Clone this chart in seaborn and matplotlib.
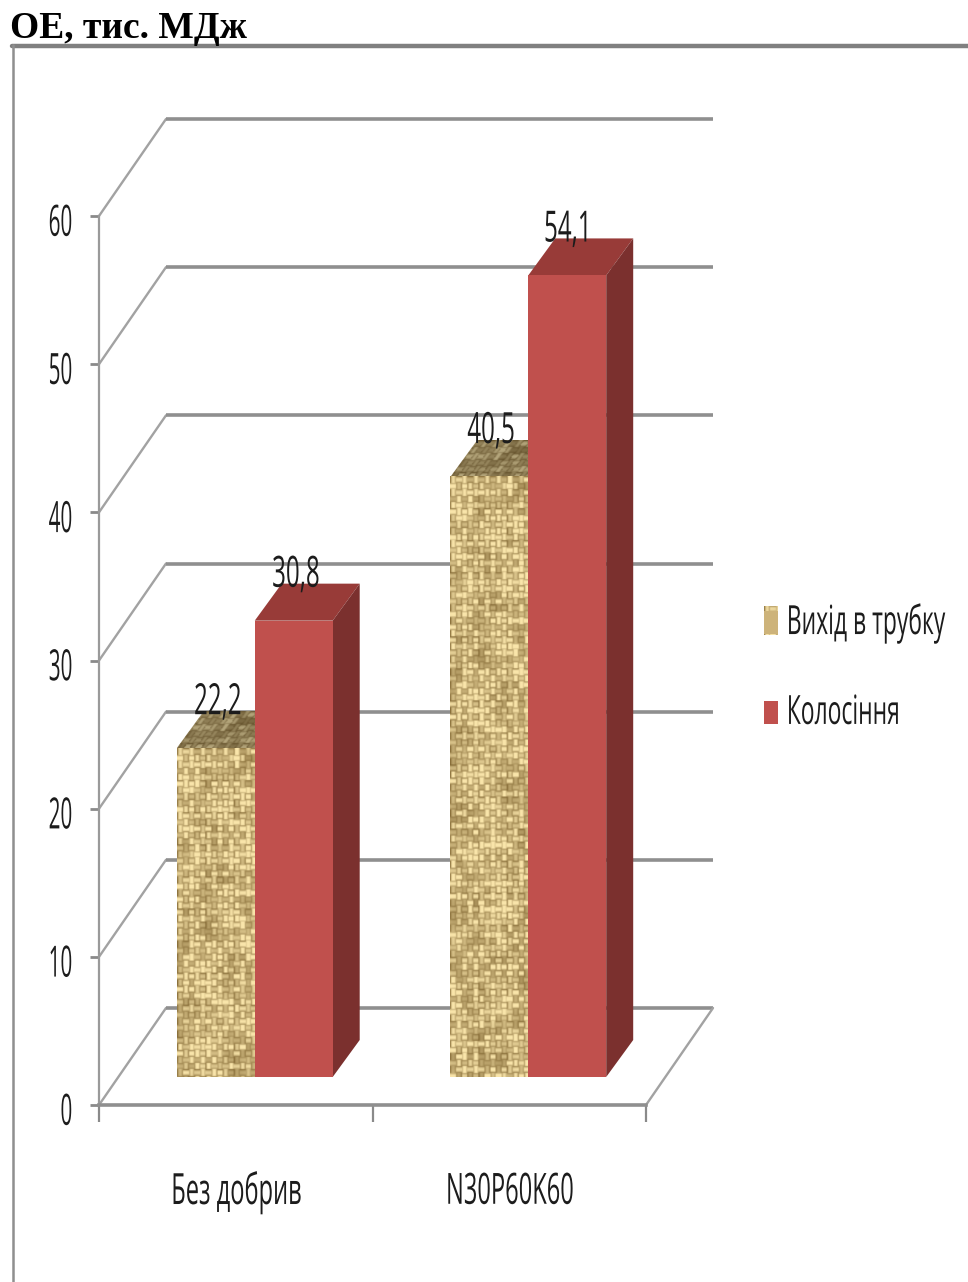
import numpy as np
import pandas as pd
import matplotlib
matplotlib.use("Agg")
import matplotlib.pyplot as plt
import matplotlib.patheffects as pe
from matplotlib.lines import Line2D
from matplotlib.patches import Patch, Polygon
from matplotlib.transforms import Affine2D
import seaborn as sns

# Metabolizable energy by fertilizer treatment and growth phase
treatments = ["Без добрив", "N30P60K60"]
phases = ["Вихід в трубку", "Колосіння"]
booting = [22.2, 40.5]
heading = [30.8, 54.1]
y_ticks = [0, 10, 20, 30, 40, 50, 60]

WIDTH, HEIGHT = 968, 1282
DPI = 100

sns.set_theme(style="white")
plt.rcParams["font.family"] = ["Open Sans", "DejaVu Sans"]

GRID = "#8f8f8f"
RED_FRONT, RED_TOP, RED_SIDE = "#C0504D", "#983B38", "#7B302E"
BURLAP = "#CDB37A"
INK = "#1c1c1c"
LABEL_SIZE = 31
LEGEND_SIZE = 16


class Reshaped(pe.AbstractPathEffect):
    """Rescale a text's glyphs about an edge or the centre, and its baseline."""

    def __init__(self, x_scale, anchor="center", y_scale=1.0, dy=0):
        super().__init__()
        self.x_scale, self.anchor, self.y_scale, self.dy = x_scale, anchor, y_scale, dy

    def draw_path(self, renderer, gc, tpath, affine, rgbFace=None):
        box = tpath.get_extents(affine)
        pivot_x = {"left": box.x0, "right": box.x1, "center": (box.x0 + box.x1) / 2}[self.anchor]
        baseline = affine.transform((0, 0))[1]
        reshape = (Affine2D().translate(-pivot_x, -baseline)
                   .scale(self.x_scale, self.y_scale)
                   .translate(pivot_x, baseline + self.dy))
        renderer.draw_path(gc, tpath, affine + reshape, rgbFace)


def reshape_text(text, x_scale, anchor="center", y_scale=1.0, dy=0):
    text.set_path_effects([Reshaped(x_scale, anchor, y_scale, dy)])


def px_rect(left, top, right, bottom):
    return [left / WIDTH, 1 - bottom / HEIGHT, (right - left) / WIDTH, (bottom - top) / HEIGHT]


def cell_hash(a, b, seed=0.0):
    """Repeatable per-cell value in [0, 1) for uneven thread tones."""
    v = np.sin(a * 12.9898 + b * 78.233 + seed) * 43758.5453
    return v - np.floor(v)


def burlap_texture(rows, cols, shade=1.0, slant=0.0):
    """Sackcloth: over-and-under threads whose tone varies from stretch to stretch."""
    y, x = np.mgrid[0:rows, 0:cols].astype(float)
    x = x + slant * y
    size_x, size_y = 5.6, 6.4
    i, j = np.floor(x / size_x), np.floor(y / size_y)
    fx, fy = x / size_x - i, y / size_y - j
    warp_on_top = (i + j) % 2 == 0

    warp_tone = 0.3 + 0.7 * cell_hash(i, np.floor(j / 3), 1.0)
    weft_tone = 0.3 + 0.7 * cell_hash(np.floor(i / 3), j, 2.0)
    warp = warp_tone * np.sin(np.pi * fx) ** 0.7
    weft = weft_tone * np.sin(np.pi * fy) ** 0.7
    cloth = np.where(warp_on_top, warp, weft)

    blotch = (np.sin(x / 11.0 + 1.3 * np.sin(y / 17.0)) * np.sin(y / 14.0 - x / 29.0)
              + 0.5 * np.sin(x / 5.1 + y / 23.0) * np.cos(y / 7.3 - x / 13.0))
    tone = np.clip(0.28 + 0.92 * cloth + 0.08 * blotch, 0, 1)[..., None]
    dark = np.array([0.40, 0.29, 0.09])
    light = np.array([0.98, 0.90, 0.67])
    return (dark + (light - dark) * tone) * shade


df = pd.DataFrame({
    "treatment": treatments * 2,
    "phase": [phases[0]] * 2 + [phases[1]] * 2,
    "oe": booting + heading,
})

fig = plt.figure(figsize=(WIDTH / DPI, HEIGHT / DPI), dpi=DPI, facecolor="white")

# Front plane of the pseudo-3D frame: carries the axes and their labels
ax = fig.add_axes(px_rect(99, 216, 646, 1105), facecolor="none")
ax.set_xlim(-0.5, 1.5)
ax.set_ylim(0, 60)
ax.set_yticks(y_ticks)
ax.set_xticks([0, 1], treatments)
ax.set_xticks([-0.5, 0.5, 1.5], minor=True)
for side in ("top", "right"):
    ax.spines[side].set_visible(False)
ax.spines["left"].set(color="#9a9a9a", linewidth=1.6, bounds=(0, 60))
ax.spines["bottom"].set(color=GRID, linewidth=2.6)
ax.tick_params(axis="y", left=True, length=6.5, width=2, color="#8a8a8a", pad=12,
               labelsize=LABEL_SIZE, labelcolor=INK)
ax.tick_params(axis="x", which="major", bottom=False, length=0, pad=47,
               labelsize=LABEL_SIZE, labelcolor=INK)
ax.tick_params(axis="x", which="minor", bottom=True, length=12, width=1.6, color="#8a8a8a")
for label in ax.get_yticklabels():
    reshape_text(label, 0.48, "right", dy=-3)
for label in ax.get_xticklabels():
    reshape_text(label, 0.55, "center")

# Receding floor and back wall
depth_x = 67 / (547 / 2)
depth_y = 97 / (889 / 60)
for tick in y_ticks:
    ax.plot([-0.5, -0.5 + depth_x], [tick, tick + depth_y], color="#a2a2a2", lw=1.7,
            clip_on=False, zorder=1)
    ax.plot([-0.5 + depth_x, 1.5 + depth_x], [tick + depth_y] * 2, color=GRID, lw=2.6,
            clip_on=False, zorder=1, solid_capstyle="butt")
ax.plot([1.5, 1.5 + depth_x], [0, depth_y], color="#a2a2a2", lw=1.7, clip_on=False, zorder=1)

# Bars stand part-way into the floor, on their own shifted plane
bars_ax = fig.add_axes(px_rect(118, 188, 665, 1077), facecolor="none", zorder=3)
sns.barplot(data=df, x="treatment", y="oe", hue="phase", hue_order=phases,
            order=treatments, palette=[BURLAP, RED_FRONT], width=0.57, gap=0,
            saturation=1, legend=False, ax=bars_ax)
bars_ax.axis("off")

bar_dx = 27 / (547 / 2)
bar_dy = 37 / (889 / 60)
px_x = 547 / 2
px_y = 889 / 60


def value_label(bar):
    x_mid = bar.get_x() + bar.get_width() / 2
    top = bar.get_height()
    text = bars_ax.annotate(f"{top:.1f}".replace(".", ","), (x_mid, top),
                            xytext=(1.5, 32.5), textcoords="offset points", ha="center", va="center",
                            fontsize=LABEL_SIZE, color=INK, zorder=6, annotation_clip=False)
    reshape_text(text, 0.56, "center")


for bar in bars_ax.containers[0]:
    bar.set_linewidth(0)
    x0, x1, top = bar.get_x(), bar.get_x() + bar.get_width(), bar.get_height()
    rows, cols = int(top * px_y), int((x1 - x0) * px_x)
    bars_ax.imshow(burlap_texture(rows, cols), extent=(x0, x1, 0, top), aspect="auto",
                   interpolation="bicubic", zorder=2.2)
    cap = Polygon([(x0, top), (x1, top), (x1 + bar_dx, top + bar_dy), (x0 + bar_dx, top + bar_dy)],
                  closed=True, facecolor="none", edgecolor="none",
                  transform=bars_ax.transData)
    bars_ax.add_patch(cap)
    cap_img = bars_ax.imshow(burlap_texture(int(bar_dy * px_y), cols + 27, shade=0.72, slant=0.75),
                             extent=(x0, x1 + bar_dx, top, top + bar_dy), aspect="auto",
                             interpolation="bicubic", zorder=2.1)
    cap_img.set_clip_path(cap)
    value_label(bar)

for bar in bars_ax.containers[1]:
    bar.set_linewidth(0)
    bar.set_zorder(3)
    x0, x1, top = bar.get_x(), bar.get_x() + bar.get_width(), bar.get_height()
    bars_ax.add_patch(Polygon([(x0, top), (x1, top), (x1 + bar_dx, top + bar_dy), (x0 + bar_dx, top + bar_dy)],
                              closed=True, facecolor=RED_TOP, edgecolor="none", zorder=2.9, clip_on=False))
    bars_ax.add_patch(Polygon([(x1, 0), (x1 + bar_dx, bar_dy), (x1 + bar_dx, top + bar_dy), (x1, top)],
                              closed=True, facecolor=RED_SIDE, edgecolor="none", zorder=2.9, clip_on=False))
    value_label(bar)
bars_ax.set_xlim(-0.5, 1.5)
bars_ax.set_ylim(0, 60)

handles = [Patch(facecolor=BURLAP, edgecolor="none"), Patch(facecolor=RED_FRONT, edgecolor="none")]
legend = fig.legend(handles, phases, loc="center left", bbox_to_anchor=(764 / WIDTH, 1 - 668 / HEIGHT),
                    frameon=False, fontsize=LEGEND_SIZE, handlelength=0.63, handleheight=1.215,
                    handletextpad=0.4, labelspacing=2.965, borderpad=0, borderaxespad=0,
                    labelcolor=INK)
for label in legend.get_texts():
    reshape_text(label, 1.03, "left", y_scale=1.81, dy=-4)

# Woven swatch laid over the first legend key
swatch_ax = fig.add_axes(px_rect(764, 606, 778, 635), zorder=4)
swatch_ax.imshow(burlap_texture(29, 14), aspect="auto", interpolation="bicubic")
swatch_ax.axis("off")

# Outer chart border and heading
fig.add_artist(Line2D([12 / WIDTH, 1], [1 - 45.5 / HEIGHT] * 2, color="#808080", lw=3.2,
                      transform=fig.transFigure))
fig.add_artist(Line2D([12.5 / WIDTH] * 2, [0, 1 - 45 / HEIGHT], color="#8f8f8f", lw=1.8,
                      transform=fig.transFigure))
fig.text(10 / WIDTH, 1 - 38 / HEIGHT, "ОЕ, тис. МДж", family=["Liberation Serif", "DejaVu Serif"],
         fontweight="bold", fontsize=27, color="black", ha="left", va="baseline")

fig.savefig("out.png", dpi=DPI)
